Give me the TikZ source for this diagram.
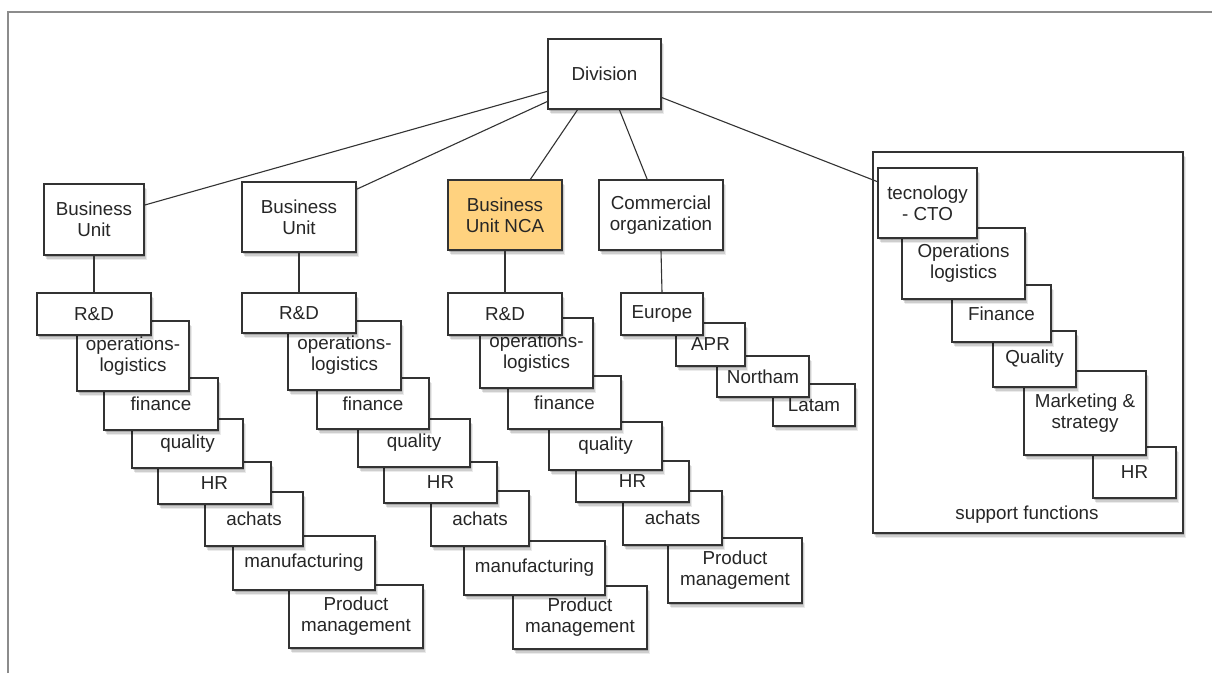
\documentclass[tikz,border=0pt]{standalone}
\usepackage{fontspec}
\setmainfont{Liberation Sans}
\usetikzlibrary{shadows,calc}
\definecolor{ncafill}{HTML}{FFD27F}
\definecolor{framegray}{HTML}{8C8C8C}
\definecolor{txt}{HTML}{262626}
\definecolor{edge}{HTML}{333333}
\tikzset{
  box/.style={draw=edge, line width=1.1pt, fill=white, rectangle, inner sep=0pt,
    align=center, text=txt, font=\fontsize{18.8}{21}\selectfont,
    drop shadow={shadow xshift=3pt, shadow yshift=-5pt, opacity=0.08, fill=black},
    drop shadow={shadow xshift=2pt, shadow yshift=-3.5pt, opacity=0.12, fill=black},
    drop shadow={shadow xshift=1pt, shadow yshift=-2pt, opacity=0.18, fill=black}},
  conn/.style={draw=edge, line width=1.1pt},
  lbl/.style={inner sep=0pt, text=txt, font=\fontsize{18.8}{21}\selectfont},
}
\begin{document}
\begin{tikzpicture}[x=1pt,y=-1pt]
\useasboundingbox (0,0) rectangle (1212,673);
\fill[white] (0,0) rectangle (1212,673);
\draw[framegray, line width=2pt] (8,673) -- (8,12) -- (1212,12);

% top level
\node[box, minimum width=113pt, minimum height=70pt] (div) at (604.5,74) {Division};
\node[box, minimum width=100pt, minimum height=71pt] (bu1) at (94,219.5) {Business\\Unit};
\node[box, minimum width=114pt, minimum height=70pt] (bu2) at (299,217) {Business\\Unit};
\node[box, fill=ncafill, minimum width=114pt, minimum height=70pt] (nca) at (505,215) {Business\\Unit NCA};
\node[box, minimum width=124pt, minimum height=70pt] (com) at (661,215) {Commercial\\organization};

% column 1 (drawn bottom-up so earlier boxes lie on top)
\node[box, minimum width=134pt, minimum height=63pt] (pma) at (356,616.5) {Product\\management};
\node[box, minimum width=142pt, minimum height=54pt] (mana) at (304,563) {manufacturing};
\node[box, minimum width=98pt, minimum height=54pt] (acha) at (254,519) {achats};
\node[box, minimum width=113pt, minimum height=42pt] (hra) at (214.5,483) {HR};
\node[box, minimum width=111pt, minimum height=49pt] (quala) at (187.5,443.5) {quality};
\node[box, minimum width=114pt, minimum height=52pt] (fina) at (161,404) {finance};
\node[box, minimum width=112pt, minimum height=70pt] (opsa) at (133,356) {operations-\\logistics};
\node[box, minimum width=114pt, minimum height=42pt] (rda) at (94,314) {R\&D};

% column 2
\node[box, minimum width=134pt, minimum height=63pt] (pmb) at (580,617.5) {Product\\management};
\node[box, minimum width=141pt, minimum height=54pt] (manb) at (534.5,568) {manufacturing};
\node[box, minimum width=98pt, minimum height=55pt] (achb) at (480,518.5) {achats};
\node[box, minimum width=113pt, minimum height=41pt] (hrb) at (440.5,482.5) {HR};
\node[box, minimum width=112pt, minimum height=48pt] (qualb) at (414,443) {quality};
\node[box, minimum width=112pt, minimum height=51pt] (finb) at (373,403.5) {finance};
\node[box, minimum width=113pt, minimum height=69pt] (opsb) at (344.5,355.5) {operations-\\logistics};
\node[box, minimum width=114pt, minimum height=40pt] (rdb) at (299,313) {R\&D};

% column 3 (NCA)
\node[box, minimum width=134pt, minimum height=65pt] (pmc) at (735,570.5) {Product\\management};
\node[box, minimum width=99pt, minimum height=54pt] (achc) at (672.5,518) {achats};
\node[box, minimum width=113pt, minimum height=41pt] (hrc) at (632.5,481.5) {HR};
\node[box, minimum width=113pt, minimum height=48pt] (qualc) at (605.5,446) {quality};
\node[box, minimum width=113pt, minimum height=53pt] (finc) at (564.5,402.5) {finance};
\node[box, minimum width=113pt, minimum height=70pt] (opsc) at (536.5,353) {operations-\\logistics};
\node[box, minimum width=114pt, minimum height=42pt] (rdc) at (505,314) {R\&D};

% commercial regions
\node[box, minimum width=82pt, minimum height=42pt] (latam) at (814,405) {Latam};
\node[box, minimum width=92pt, minimum height=41pt] (northam) at (763,376.5) {Northam};
\node[box, minimum width=69pt, minimum height=43pt] (apr) at (710.5,344.5) {APR};
\node[box, minimum width=82pt, minimum height=42pt] (europe) at (662,314) {Europe};

% support functions
\node[box, minimum width=310pt, minimum height=381pt] (supp) at (1028,342.5) {};
\node[lbl] (supplbl) at (1027,515) {support functions};
\node[box, minimum width=83pt, minimum height=51pt] (hrs) at (1134.5,472.5) {HR};
\node[box, minimum width=122pt, minimum height=84pt] (mkt) at (1085,413) {Marketing \&\\strategy};
\node[box, minimum width=83pt, minimum height=56pt] (quals) at (1034.5,359) {Quality};
\node[box, minimum width=99pt, minimum height=57pt] (fins) at (1001.5,313.5) {Finance};
\node[box, minimum width=123pt, minimum height=71pt] (opss) at (963.5,263.5) {Operations\\logistics};
\node[box, minimum width=99pt, minimum height=70pt] (tec) at (927.5,203) {tecnology\\- CTO};

% connectors
\draw[conn] ($(div.north west)!0.743!(div.south west)$) -- ($(bu1.north east)!0.30!(bu1.south east)$);
\draw[conn] ($(div.north west)!0.886!(div.south west)$) -- ($(bu2.north east)!0.11!(bu2.south east)$);
\draw[conn] ($(div.south west)!0.265!(div.south east)$) -- ($(nca.north west)!0.72!(nca.north east)$);
\draw[conn] ($(div.south west)!0.63!(div.south east)$) -- ($(com.north west)!0.39!(com.north east)$);
\draw[conn] ($(div.north east)!0.83!(div.south east)$) -- ($(tec.north west)!0.2!(tec.south west)$);
\draw[conn] (bu1.south) -- (rda.north);
\draw[conn] (bu2.south) -- (rdb.north);
\draw[conn] (nca.south) -- (rdc.north);
\draw[conn] (com.south) -- (europe.north);
\end{tikzpicture}
\end{document}
